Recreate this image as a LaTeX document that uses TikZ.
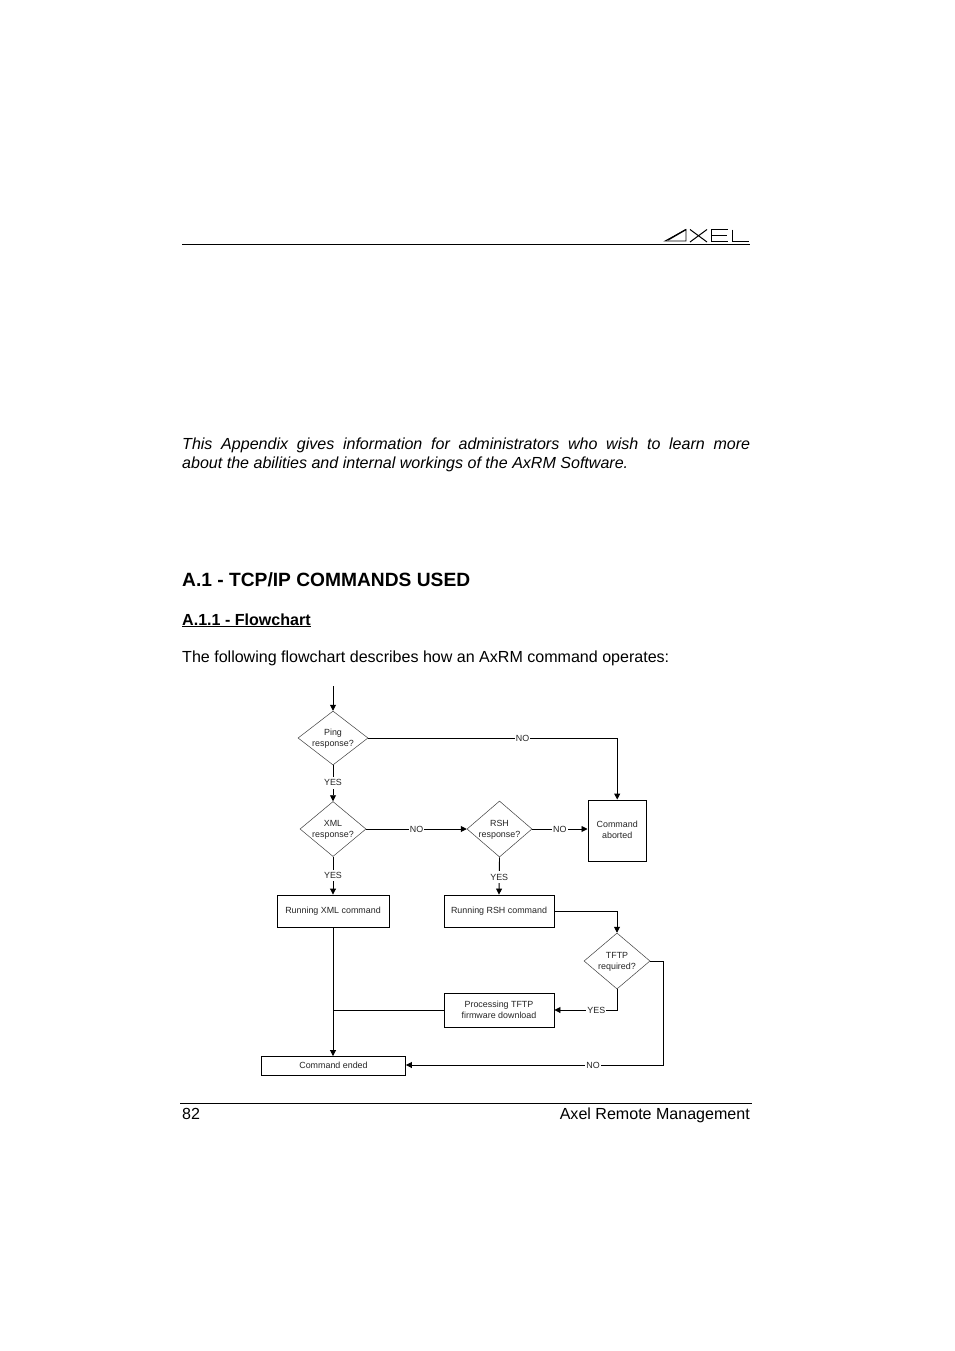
\documentclass[tikz,border=0pt]{standalone}
\usepackage{fontspec}
\setmainfont{Liberation Sans}
\usetikzlibrary{arrows.meta,shapes.geometric}
\newcommand\dtxt[1]{\makebox[0pt]{\smash{\raisebox{-2.8pt}{\parbox[c]{80pt}{\centering #1}}}}}
\newcommand\uptxt[1]{\raisebox{1pt}[\height][\depth]{#1}}
\tikzset{
  conn/.style={draw=black,line width=0.9pt},
  arr/.style={conn,-{Triangle[length=6pt,width=6pt]}},
  boxn/.style={draw=black,line width=0.9pt,rectangle,inner sep=0pt,align=center,font=\fontsize{8.9}{10.8}\selectfont,text=black!85},
  dia/.style={draw=black!75,line width=0.5pt,diamond,inner sep=0pt,font=\fontsize{8.9}{11}\selectfont,text=black!85},
  lab/.style={fill=white,inner sep=1pt,font=\fontsize{8.9}{10.8}\selectfont,text=black!85},
  vlab/.style={lab,inner ysep=2.5pt},
  body/.style={inner sep=0pt,anchor=base west,font=\fontsize{16.05}{19}\selectfont}
}
\begin{document}
\begin{tikzpicture}[x=1pt,y=-1pt]
\useasboundingbox (0,0) rectangle (954,1351);
\fill[white] (0,0) rectangle (954,1351);
% header
\coordinate (hl) at (182,244.5); \coordinate (hr) at (750,244.5);
\draw[line width=0.8pt] (hl) -- (hr);
% logo
\draw[line width=0.8pt,line join=miter] (686,241) -- (665,241) -- (686,229.5) -- cycle;
\draw[line width=1.3pt] (686,229.5) -- (668,240);
\draw[line width=1pt] (690,229.5) -- (707,242) (707,229.5) -- (690,242);
\draw[line width=1pt] (728,229.5) -- (711,229.5) -- (711,241.5) -- (728,241.5) (711,235.5) -- (727,235.5);
\draw[line width=1pt] (732,229.5) -- (732,241.5) -- (749,241.5);
% text
\node[inner sep=0pt,anchor=north west,text width=568pt,align=justify,font=\fontsize{16.05}{19}\selectfont\itshape] (intro) at (182,437.5)
 {This Appendix gives information for administrators who wish to learn more\linebreak about the abilities and internal workings of the AxRM Software.};
\node[body,font=\fontsize{19.2}{24}\selectfont\bfseries] (h1) at (182,586) {A.1 - TCP/IP COMMANDS USED};
\node[body,font=\fontsize{16.05}{19}\selectfont\bfseries] (h2) at (182,625) {\underline{A.1.1 - Flowchart}};
\node[body] (p) at (182,662) {The following flowchart describes how an AxRM command operates:};
% footer
\coordinate (fl) at (180,1103.5); \coordinate (fr) at (752,1103.5);
\draw[line width=0.8pt] (fl) -- (fr);
\node[body] (pg) at (182,1119) {82};
\node[inner sep=0pt,anchor=base east,font=\fontsize{16.05}{19}\selectfont] (ft) at (750,1119) {Axel Remote Management};
% flowchart
\coordinate (start) at (333,686);
\node[dia,minimum width=70pt,minimum height=54pt] (ping) at (333,738) {\dtxt{Ping\\response?}};
\node[dia,minimum width=66pt,minimum height=55pt] (xml) at (333,829) {\dtxt{XML\\response?}};
\node[dia,minimum width=65pt,minimum height=56pt] (rsh) at (499.5,829) {\dtxt{RSH\\response?}};
\node[dia,minimum width=66pt,minimum height=56pt] (tftp) at (617,961) {\dtxt{TFTP\\required?}};
\node[boxn,minimum width=58.5pt,minimum height=61pt] (abort) at (617.2,830.5) {\uptxt{Command}\\\uptxt{aborted}};
\node[boxn,minimum width=112pt,minimum height=32pt] (rx) at (333,911) {Running XML command};
\node[boxn,minimum width=110pt,minimum height=32pt] (rr) at (499,911) {Running RSH command};
\node[boxn,minimum width=110pt,minimum height=34pt] (proc) at (499,1010) {Processing TFTP\\firmware download};
\node[boxn,minimum width=144pt,minimum height=19pt] (end) at (333.5,1066) {\uptxt{Command ended}};
\draw[arr] (start) -- (ping.north);
\draw[arr] (ping.south) -- node[vlab,pos=.49]{YES} (xml.north);
\draw[arr] (xml.south) -- node[vlab,pos=.5]{YES} (rx.north);
\draw[arr] (rsh.south) -- node[vlab,pos=.53]{YES} (rr.north);
\draw[arr] (ping.east) -- node[lab,pos=.62]{NO} (ping.east -| abort.north) -- (abort.north);
\draw[arr] (xml.east) -- node[lab]{NO} (rsh.west);
\draw[arr] (rsh.east) -- node[lab,pos=.5]{NO} (abort.west |- rsh.east);
\draw[arr] (rr.east) -- (rr.east -| tftp.north) -- (tftp.north);
\coordinate (tr) at (663,961);
\coordinate (trb) at (663,1065);
\draw[arr] (tftp.south) -- (tftp.south |- proc.east) -- node[lab,pos=.33]{YES} (proc.east);
\draw[arr] (tftp.east) -- (tr) -- (trb) -- node[lab,pos=.272]{NO} (end.east |- trb);
\draw[arr] (rx.south) -- (rx.south |- end.north);
\draw[conn] (proc.west) -- (rx.south |- proc.west);
\end{tikzpicture}
\end{document}
